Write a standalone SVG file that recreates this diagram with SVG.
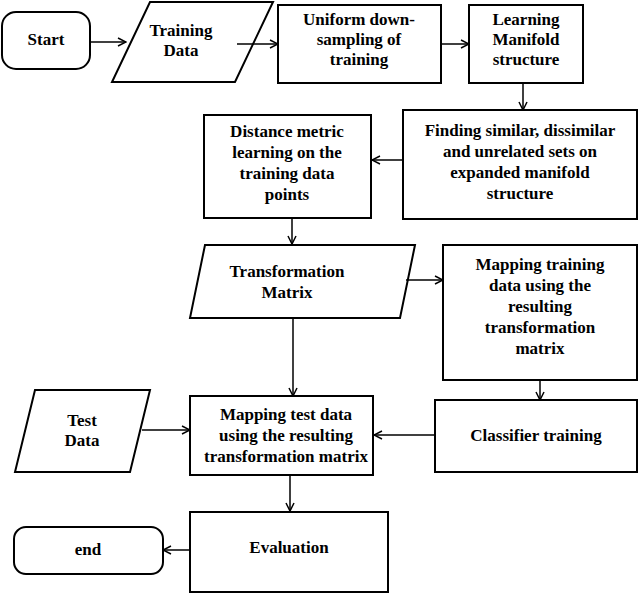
<svg xmlns="http://www.w3.org/2000/svg" width="640" height="594" viewBox="0 0 640 594">
<style>
.s{fill:#fff;stroke:#000;stroke-width:2}
text{font-family:"Liberation Serif",serif;font-weight:bold;font-size:17px;text-anchor:middle}
.c{fill:none;stroke:#000;stroke-width:1.5;marker-end:url(#a)}
</style>
<defs><marker id="a" markerWidth="10" markerHeight="10" refX="9" refY="5" orient="auto" markerUnits="userSpaceOnUse"><path d="M1,1 L9,5 L1,9" fill="none" stroke="#000" stroke-width="1.5"/></marker></defs>
<rect width="640" height="594" fill="#fff"/>
<g id="start"><rect class="s" x="2" y="12" width="88" height="57" rx="14"/><text x="46" y="45">Start</text></g>
<g id="train"><polygon class="s" points="150,2 273,2 235,82 112,82"/><text x="181" y="36">Training</text><text x="181" y="56">Data</text></g>
<g id="uni"><rect class="s" x="278" y="5" width="163" height="78"/><text x="359" y="25">Uniform down-</text><text x="359" y="45">sampling of</text><text x="359" y="65">training</text></g>
<g id="lm"><rect class="s" x="469" y="5" width="114" height="78"/><text x="526" y="25">Learning</text><text x="526" y="45">Manifold</text><text x="526" y="65">structure</text></g>
<g id="find"><rect class="s" x="403" y="110" width="234" height="109"/><text x="520" y="136">Finding similar, dissimilar</text><text x="520" y="157">and unrelated sets on</text><text x="520" y="178">expanded manifold</text><text x="520" y="199">structure</text></g>
<g id="dist"><rect class="s" x="204" y="115" width="167" height="103"/><text x="287" y="137">Distance metric</text><text x="287" y="158">learning on the</text><text x="287" y="179">training data</text><text x="287" y="200">points</text></g>
<g id="tm"><polygon class="s" points="205,245 415,245 400,318 190,318"/><text x="287" y="277">Transformation</text><text x="287" y="298">Matrix</text></g>
<g id="mtr"><rect class="s" x="443" y="245" width="194" height="135"/><text x="540" y="270">Mapping training</text><text x="540" y="291">data using the</text><text x="540" y="312">resulting</text><text x="540" y="333">transformation</text><text x="540" y="354">matrix</text></g>
<g id="cls"><rect class="s" x="435" y="400" width="202" height="72"/><text x="536" y="441">Classifier training</text></g>
<g id="mte"><rect class="s" x="190" y="396" width="183" height="79"/><text x="286" y="420">Mapping test data</text><text x="286" y="441">using the resulting</text><text x="286" y="462">transformation matrix</text></g>
<g id="test"><polygon class="s" points="35,390 150,390 130,472 15,472"/><text x="82" y="426">Test</text><text x="82" y="446">Data</text></g>
<g id="eval"><rect class="s" x="190" y="512" width="198" height="80"/><text x="289" y="553">Evaluation</text></g>
<g id="end"><rect class="s" x="14" y="527" width="149" height="47" rx="12"/><text x="88" y="555">end</text></g>
<g id="connectors">
<path class="c" d="M90,42 H126"/>
<path class="c" d="M237,44 H278"/>
<path class="c" d="M441,44 H469"/>
<path class="c" d="M523,83 V110"/>
<path class="c" d="M403,160 H372"/>
<path class="c" d="M292,218 V244"/>
<path class="c" d="M406,280 H443"/>
<path class="c" d="M293,318 V396"/>
<path class="c" d="M540,380 V400"/>
<path class="c" d="M435,435 H374"/>
<path class="c" d="M142,430 H190"/>
<path class="c" d="M290,475 V511"/>
<path class="c" d="M190,550 H163"/>
</g>
</svg>
